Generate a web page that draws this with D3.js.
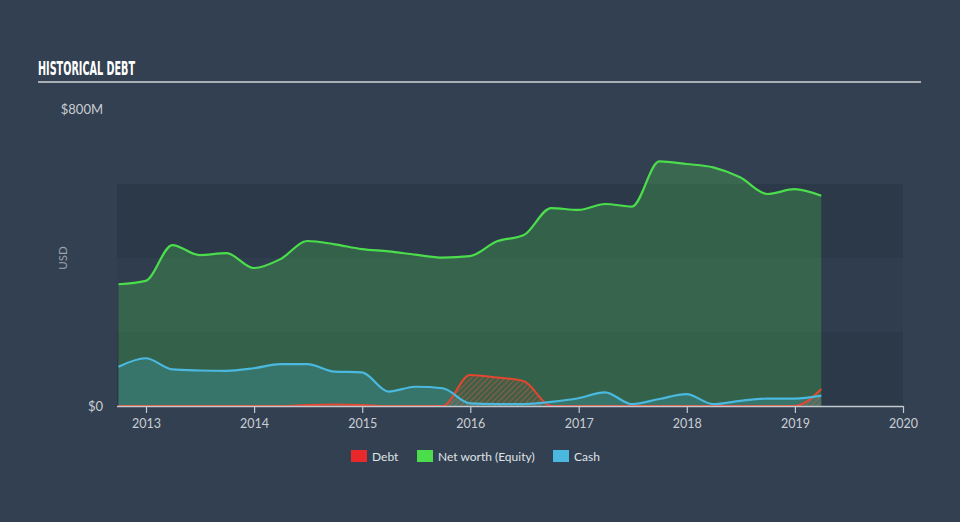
<!DOCTYPE html>
<html>
<head>
<meta charset="utf-8">
<script src="https://cdn.jsdelivr.net/npm/d3@7/dist/d3.min.js"></script>
<style>
  html, body { margin: 0; padding: 0; background: #334051; }
  svg { display: block; }
</style>
</head>
<body>
<svg id="chart" width="960" height="522"></svg>
<script>
// ---- data (USD millions, quarter ends) ----
const dates = ["2012-09-30","2012-12-31","2013-03-31","2013-06-30","2013-09-30","2013-12-31",
  "2014-03-31","2014-06-30","2014-09-30","2014-12-31","2015-03-31","2015-06-30","2015-09-30",
  "2015-12-31","2016-03-31","2016-06-30","2016-09-30","2016-12-31","2017-03-31","2017-06-30",
  "2017-09-30","2017-12-31","2018-03-31","2018-06-30","2018-09-30","2018-12-31","2019-03-31"];
const equity = [329,338,435,408,413,373,397,446,437,424,418,409,401,405,445,462,535,530,546,539,661,654,645,618,573,586,568];
const cash   = [106,129,99,96,95,102,113,113,93,91,39,52,48,7,5,5,11,21,37,5,19,32,5,14,20,20,28];
const debt   = [0,0,0,0,0,0,0,3,4,3,0,0,0,84,77,67,0,0,0,0,0,0,0,0,0,0,46];
const yearTicks = ["2013","2014","2015","2016","2017","2018","2019","2020"];
const yTickLabels = ["$0","$800M"];
const legendLabels = ["Debt","Net worth (Equity)","Cash"];

(function(){
const parse = d3.timeParse("%Y-%m-%d");
const rows = dates.map((d,i)=>({date: parse(d), equity: equity[i], cash: cash[i], debt: debt[i]}));

const svg = d3.select("#chart");
const W = 960, H = 522;
const pL = 117, pR = 903, pT = 110, pB = 406;

const x = d3.scaleTime()
  .domain([new Date(2013,0,1), new Date(2020,0,1)])
  .range([146, 903]);
const y = d3.scaleLinear().domain([0,800]).range([pB, pT]);

const COL_DEBT = "#e4472f", COL_EQ = "#4cdd4c", COL_CASH = "#4bb9df";

// background
svg.append("rect").attr("width",W).attr("height",H).attr("fill","#334051");

// title
svg.append("text").attr("x",38).attr("y",75)
  .attr("font-family","'Liberation Sans Narrow','DejaVu Sans Condensed',sans-serif")
  .attr("font-weight","bold").attr("font-size",20).attr("fill","#ffffff")
  .attr("textLength",97).attr("lengthAdjust","spacingAndGlyphs")
  .text("HISTORICAL DEBT");
svg.append("line").attr("x1",38).attr("x2",921).attr("y1",82).attr("y2",82)
  .attr("stroke","#a9aeb5").attr("stroke-width",2);

// bands
const bandVals = [0,200,400];
svg.append("g").selectAll("rect").data(bandVals).join("rect")
  .attr("x",pL).attr("width",pR-pL)
  .attr("y",d=>y(d+200)).attr("height",d=>y(d)-y(d+200))
  .attr("fill",(d,i)=> i%2===0 ? "rgba(20,30,45,0.22)" : "rgba(20,30,45,0.07)");

// hatch pattern
const defs = svg.append("defs");
const pat = defs.append("pattern").attr("id","hatch").attr("patternUnits","userSpaceOnUse")
  .attr("width",4).attr("height",4).attr("patternTransform","rotate(45)");
pat.append("rect").attr("width",4).attr("height",4).attr("fill","rgba(228,71,47,0.08)");
pat.append("line").attr("x1",0).attr("y1",0).attr("x2",0).attr("y2",4)
  .attr("stroke","rgba(228,90,60,0.75)").attr("stroke-width",1.3);

const curve = d3.curveMonotoneX;
const area = key => d3.area().curve(curve).x(d=>x(d.date)).y0(y(0)).y1(d=>y(d[key]));
const line = key => d3.line().curve(curve).x(d=>x(d.date)).y(d=>y(d[key]));

svg.append("path").datum(rows).attr("d",area("equity")).attr("fill","rgba(76,221,76,0.25)");
svg.append("path").datum(rows).attr("d",area("cash")).attr("fill","rgba(75,185,223,0.22)");
svg.append("path").datum(rows).attr("d",area("debt")).attr("fill","url(#hatch)");

svg.append("path").datum(rows).attr("d",line("equity")).attr("fill","none")
  .attr("stroke",COL_EQ).attr("stroke-width",2.2);
svg.append("path").datum(rows).attr("d",line("debt")).attr("fill","none")
  .attr("stroke",COL_DEBT).attr("stroke-width",2);
svg.append("path").datum(rows).attr("d",line("cash")).attr("fill","none")
  .attr("stroke",COL_CASH).attr("stroke-width",2.2);

// x axis
const xAxis = d3.axisBottom(x)
  .tickValues(yearTicks.map(t=>new Date(+t,0,1)))
  .tickFormat(d3.timeFormat("%Y"))
  .tickSize(7).tickSizeOuter(0);
const gx = svg.append("g").attr("transform",`translate(0,${pB})`).call(xAxis);
gx.select(".domain").attr("d",`M${pL},0.5H${pR}`).attr("stroke","#c3c8ce").attr("stroke-width",1.5);
gx.selectAll(".tick line").attr("stroke","#c3c8ce").attr("stroke-width",1.2);
gx.selectAll(".tick text").attr("fill","#c9ced4").attr("font-size",12.5)
  .attr("font-family","Lato, 'Open Sans', sans-serif").attr("dy","0.95em");

// y labels
const yLab = svg.append("g").attr("font-family","Lato, 'Open Sans', sans-serif")
  .attr("fill","#c9ced4").attr("font-size",13).attr("text-anchor","end");
yLab.selectAll("text").data([0,800]).join("text")
  .attr("x",103).attr("y",d=>y(d)).attr("dy",d=> d===0 ? "0.35em" : "0.3em")
  .text((d,i)=>yTickLabels[i]);

svg.append("text").attr("transform","translate(67,258) rotate(-90)")
  .attr("text-anchor","middle").attr("font-family","Lato, 'Open Sans', sans-serif")
  .attr("font-size",11.5).attr("fill","#9aa3ae").text("USD");

// legend
const legColors = ["#e8282b", COL_EQ, COL_CASH];
const legX = [351, 417, 553];
const lg = svg.append("g");
legendLabels.forEach((t,i)=>{
  lg.append("rect").attr("x",legX[i]).attr("y",450).attr("width",16).attr("height",12).attr("fill",legColors[i]);
  lg.append("text").attr("x",legX[i]+21).attr("y",461).attr("fill","#dfe2e6")
    .attr("font-family","Lato, 'Open Sans', sans-serif").attr("font-size",12).text(t);
});
})();
</script>
</body>
</html>
